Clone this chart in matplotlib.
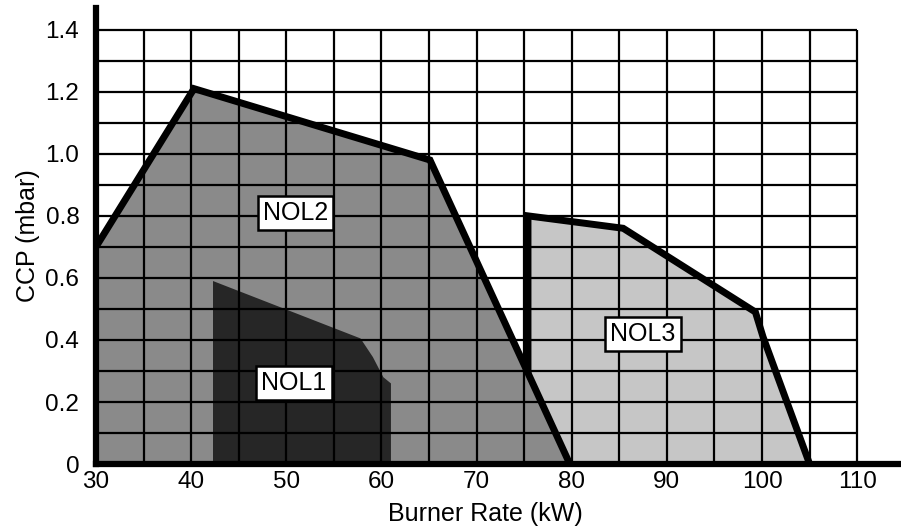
import matplotlib
matplotlib.use("Agg")
import matplotlib.pyplot as plt

plt.rcParams['font.family'] = ['Liberation Sans', 'DejaVu Sans']

# Data
nol1_x = [42.3, 42.3, 57.8, 59.1, 60.2, 61.0, 61.0]
nol1_y = [0.0, 0.59, 0.405, 0.345, 0.28, 0.26, 0.0]

nol2_x = [30.0, 40.3, 65.1, 79.8]
nol2_y = [0.70, 1.21, 0.98, 0.0]

nol3_x = [75.4, 75.4, 85.4, 99.3, 100.1, 105.0]
nol3_y = [0.0, 0.80, 0.76, 0.49, 0.41, 0.0]
nol3_edge_start = 0.30  # outline of NOL3 begins where it meets the NOL2 edge

labels = ["NOL1", "NOL2", "NOL3"]
label_x = [50.8, 51.0, 87.5]
label_y = [0.261, 0.808, 0.418]

x_ticks = [30, 40, 50, 60, 70, 80, 90, 100, 110]
y_ticks = [0, 0.2, 0.4, 0.6, 0.8, 1.0, 1.2, 1.4]
y_tick_labels = ["0", "0.2", "0.4", "0.6", "0.8", "1.0", "1.2", "1.4"]
grid_x = [35, 40, 45, 50, 55, 60, 65, 70, 75, 80, 85, 90, 95, 100, 105, 110]
grid_y = [0.1, 0.2, 0.3, 0.4, 0.5, 0.6, 0.7, 0.8, 0.9, 1.0, 1.1, 1.2, 1.3, 1.4]

fig = plt.figure(figsize=(9.01, 5.31), dpi=100)
ax = fig.add_axes([0.1065, 0.126, 0.8935, 0.859])
ax.set_xlim(30, 114.6)
ax.set_ylim(0, 1.47)

# fills
ax.fill(nol3_x, nol3_y, color="#c6c6c6", zorder=1, linewidth=0)
ax.fill(nol2_x + [30.0], nol2_y + [0.0], color="#8a8a8a", zorder=2, linewidth=0)
ax.fill(nol1_x, nol1_y, color="#262626", zorder=3, linewidth=0)

# grid
ax.hlines(grid_y, 30, 110, colors="black", linewidth=1.6, zorder=4)
ax.vlines(grid_x, 0, 1.4, colors="black", linewidth=1.6, zorder=4)

# outlines
ax.plot(nol2_x, nol2_y, color="black", linewidth=5, solid_joinstyle="miter", zorder=5)
ax.plot([nol3_x[0]] + nol3_x[1:], [nol3_edge_start] + nol3_y[1:],
        color="black", linewidth=5, solid_joinstyle="miter", zorder=5)

for t, lx, ly in zip(labels, label_x, label_y):
    ax.text(lx, ly, t, fontsize=18, ha="center", va="center", zorder=6,
            bbox=dict(boxstyle="square,pad=0.2", facecolor="white",
                      edgecolor="black", linewidth=1.8))

for s in ["top", "right"]:
    ax.spines[s].set_visible(False)
ax.spines["left"].set_linewidth(4.5)
ax.spines["bottom"].set_linewidth(4.5)
ax.spines["left"].set_zorder(7)
ax.spines["bottom"].set_zorder(7)

ax.set_xticks(x_ticks)
ax.set_yticks(y_ticks)
ax.set_yticklabels(y_tick_labels)
ax.tick_params(axis="both", length=0, labelsize=17.5)
ax.tick_params(axis="x", pad=5)
ax.tick_params(axis="y", pad=12)

ax.set_xlabel("Burner Rate (kW)", fontsize=18)
ax.set_ylabel("CCP (mbar)", fontsize=18)
ax.xaxis.set_label_coords(0.484, -0.084)

fig.savefig("out.png", dpi=100)
